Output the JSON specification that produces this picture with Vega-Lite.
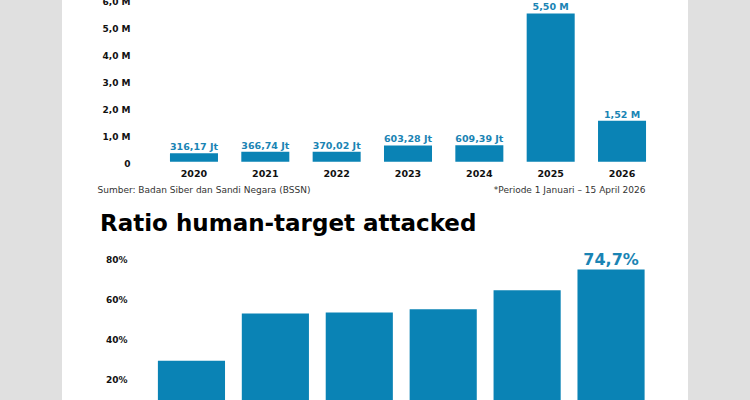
{
  "$schema": "https://vega.github.io/schema/vega-lite/v6.json",
  "autosize": {"type": "none"},
  "padding": {"left": 62, "right": 62, "top": 0, "bottom": 0},
  "width": 626,
  "height": 400,
  "background": "#e0e0e0",
  "config": {"view": {"fill": "white", "stroke": null}, "font": "DejaVu Sans"},
  "title": {"text": "Ratio human-target attacked", "orient": "top", "anchor": "start", "frame": "group", "offset": -256, "baseline": "alphabetic", "dx": 38, "fontSize": 23, "fontWeight": "bold", "color": "#000000", "font": "DejaVu Sans"},
  "datasets": {
    "attacks": [
      {"year": "2020", "value": 0.31617, "label": "316,17 Jt"},
      {"year": "2021", "value": 0.36674, "label": "366,74 Jt"},
      {"year": "2022", "value": 0.37002, "label": "370,02 Jt"},
      {"year": "2023", "value": 0.60328, "label": "603,28 Jt"},
      {"year": "2024", "value": 0.60939, "label": "609,39 Jt"},
      {"year": "2025", "value": 5.50, "label": "5,50 M"},
      {"year": "2026", "value": 1.52, "label": "1,52 M"}
    ],
    "ratio": [
      {"period": "A", "ratio": 29.1, "label": ""},
      {"period": "B", "ratio": 52.8, "label": ""},
      {"period": "C", "ratio": 53.3, "label": ""},
      {"period": "D", "ratio": 54.9, "label": ""},
      {"period": "E", "ratio": 64.4, "label": ""},
      {"period": "F", "ratio": 74.7, "label": "74,7%"}
    ]
  },
  "resolve": {"scale": {"x": "independent", "y": "independent"}, "axis": {"x": "independent", "y": "independent"}},
  "layer": [
    {
      "data": {"name": "attacks"},
      "encoding": {
        "x": {
          "field": "year", "type": "nominal", "sort": null,
          "scale": {"range": [96.3, 595.7], "paddingInner": 0.327, "paddingOuter": 0.1635},
          "axis": {"orient": "bottom", "offset": -238, "labelAngle": 0, "labelPadding": 6, "ticks": false, "tickSize": 0, "domain": false, "grid": false, "labelFontSize": 9.5, "labelFontWeight": "bold", "labelColor": "#111111", "title": "*Periode 1 Januari – 15 April 2026", "titleX": 583, "titleY": 27, "titleAlign": "right", "titleAnchor": "end", "titleBaseline": "middle", "titleFontSize": 9, "titleFontWeight": "normal", "titleColor": "#333333"}
        },
        "y": {
          "field": "value", "type": "quantitative",
          "scale": {"domain": [-8.84, 6.0], "nice": false, "zero": true},
          "axis": {"orient": "left", "values": [0, 1, 2, 3, 4, 5, 6], "labelExpr": "datum.value == 0 ? '0' : replace(format(datum.value, '.1f'), '.', ',') + ' M'", "offset": -70, "tickSize": 0, "ticks": false, "domain": false, "grid": false, "labelPadding": 2, "labelOffset": 1.5, "labelFlush": false, "labelOverlap": false, "labelFontSize": 9, "labelFontWeight": "bold", "labelColor": "#111111", "title": null}
        }
      },
      "layer": [
        {"mark": {"type": "bar", "color": "#0a83b5"}},
        {"mark": {"type": "text", "baseline": "alphabetic", "dy": -3, "fontWeight": "bold", "fontSize": 9.5, "color": "#1a84b4"}, "encoding": {"text": {"field": "label"}}}
      ]
    },
    {
      "data": {"name": "ratio"},
      "encoding": {
        "x": {
          "field": "period", "type": "nominal", "sort": null,
          "scale": {"range": [87.5, 591], "paddingInner": 0.2, "paddingOuter": 0.1},
          "axis": {"orient": "bottom", "offset": -238, "labels": false, "ticks": false, "tickSize": 0, "domain": false, "grid": false, "title": "Sumber: Badan Siber dan Sandi Negara (BSSN)", "titleX": 35, "titleY": 27, "titleAlign": "left", "titleAnchor": "start", "titleBaseline": "middle", "titleFontSize": 9, "titleFontWeight": "normal", "titleColor": "#333333"}
        },
        "y": {
          "field": "ratio", "type": "quantitative",
          "scale": {"domain": [9.5, 209.5], "nice": false},
          "axis": {"orient": "left", "values": [20, 40, 60, 80], "labelExpr": "datum.value + '%'", "offset": -67, "tickSize": 0, "ticks": false, "domain": false, "grid": false, "labelPadding": 2, "labelFontSize": 9, "labelFontWeight": "bold", "labelColor": "#111111", "title": null}
        }
      },
      "layer": [
        {"mark": {"type": "bar", "color": "#0a83b5"}},
        {"mark": {"type": "text", "baseline": "alphabetic", "dy": -5, "fontWeight": "bold", "fontSize": 16, "color": "#1a84b4"}, "encoding": {"text": {"field": "label"}}}
      ]
    }
  ]
}
